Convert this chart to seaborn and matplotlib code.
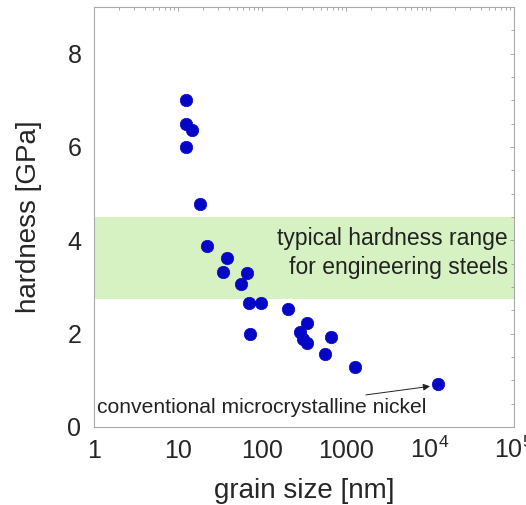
import matplotlib
matplotlib.use('Agg')
import matplotlib.pyplot as plt
import matplotlib.ticker as mticker
import pandas as pd
import seaborn as sns

# grain size [nm] and hardness [GPa]
grain_size = [12.4, 12.4, 14.6, 12.4, 18.3, 22.3, 38.7, 34.7, 66.8, 56.2,
              69.4, 98, 206, 340, 283, 72, 310, 340, 663, 567, 1280, 12300]
hardness = [7.0, 6.5, 6.37, 6.0, 4.78, 3.88, 3.63, 3.33, 3.29, 3.06,
            2.65, 2.65, 2.53, 2.23, 2.04, 1.99, 1.88, 1.79, 1.93, 1.56, 1.28, 0.92]

steel_range = (2.75, 4.5)
x_ticks = [1, 10, 100, 1000, 1e4, 1e5]
x_ticklabels = ['1', '10', '100', '1000', r'$\mathregular{10^4}$', r'$\mathregular{10^5}$']
y_ticks = [0, 2, 4, 6, 8]

df = pd.DataFrame({'grain': grain_size, 'hardness': hardness})

sns.set_style('white')
plt.rcParams['font.family'] = ['Liberation Sans', 'DejaVu Sans']
plt.rcParams['mathtext.fontset'] = 'custom'
plt.rcParams['mathtext.rm'] = 'Liberation Sans'

fig = plt.figure(figsize=(5.26, 5.05), dpi=100)
ax = fig.add_axes([94 / 526, 1 - 427 / 505, 420 / 526, 420 / 505])

ax.axhspan(steel_range[0], steel_range[1], color='#d6f2c2', zorder=0, lw=0)
sns.scatterplot(data=df, x='grain', y='hardness', ax=ax, color='#0505c8',
                s=80, edgecolor='#0505c8', linewidth=0.5, zorder=3)

ax.set_xscale('log')
ax.set_xlim(1, 1e5)
ax.set_ylim(0, 9)
ax.set_xticks(x_ticks)
ax.set_xticklabels(x_ticklabels)
ax.xaxis.set_minor_locator(mticker.LogLocator(base=10, subs=range(2, 10), numticks=20))
ax.xaxis.set_minor_formatter(mticker.NullFormatter())
ax.set_yticks(y_ticks)
ax.yaxis.set_minor_locator(mticker.MultipleLocator(0.5))

ax.tick_params(which='both', direction='in', top=True, right=True,
               color='#999999', length=3, width=0.6, labelsize=18)
ax.tick_params(axis='y', pad=9)
ax.tick_params(axis='x', pad=22)
for lab in ax.get_xticklabels():
    lab.set_verticalalignment('baseline')
ax.tick_params(which='minor', length=2)
for sp in ax.spines.values():
    sp.set_color('#aaaaaa')
    sp.set_linewidth(0.8)

ax.set_xlabel('grain size [nm]', fontsize=20, labelpad=11)
ax.set_ylabel('hardness [GPa]', fontsize=20, labelpad=18)

ax.text(8.4e4, 3.73, 'typical hardness range\nfor engineering steels',
        ha='right', va='center', fontsize=16.5, color='#222222', linespacing=1.3)
ax.annotate('conventional microcrystalline nickel', xy=(10800, 0.88),
            xytext=(1.08, 0.42), fontsize=15.2, color='#222222', va='center',
            ha='left')
ax.annotate('', xy=(10800, 0.88), xytext=(1600, 0.68),
            arrowprops=dict(arrowstyle='-|>', color='#222222', lw=0.7,
                            mutation_scale=10))

fig.savefig('out.png', dpi=100)
